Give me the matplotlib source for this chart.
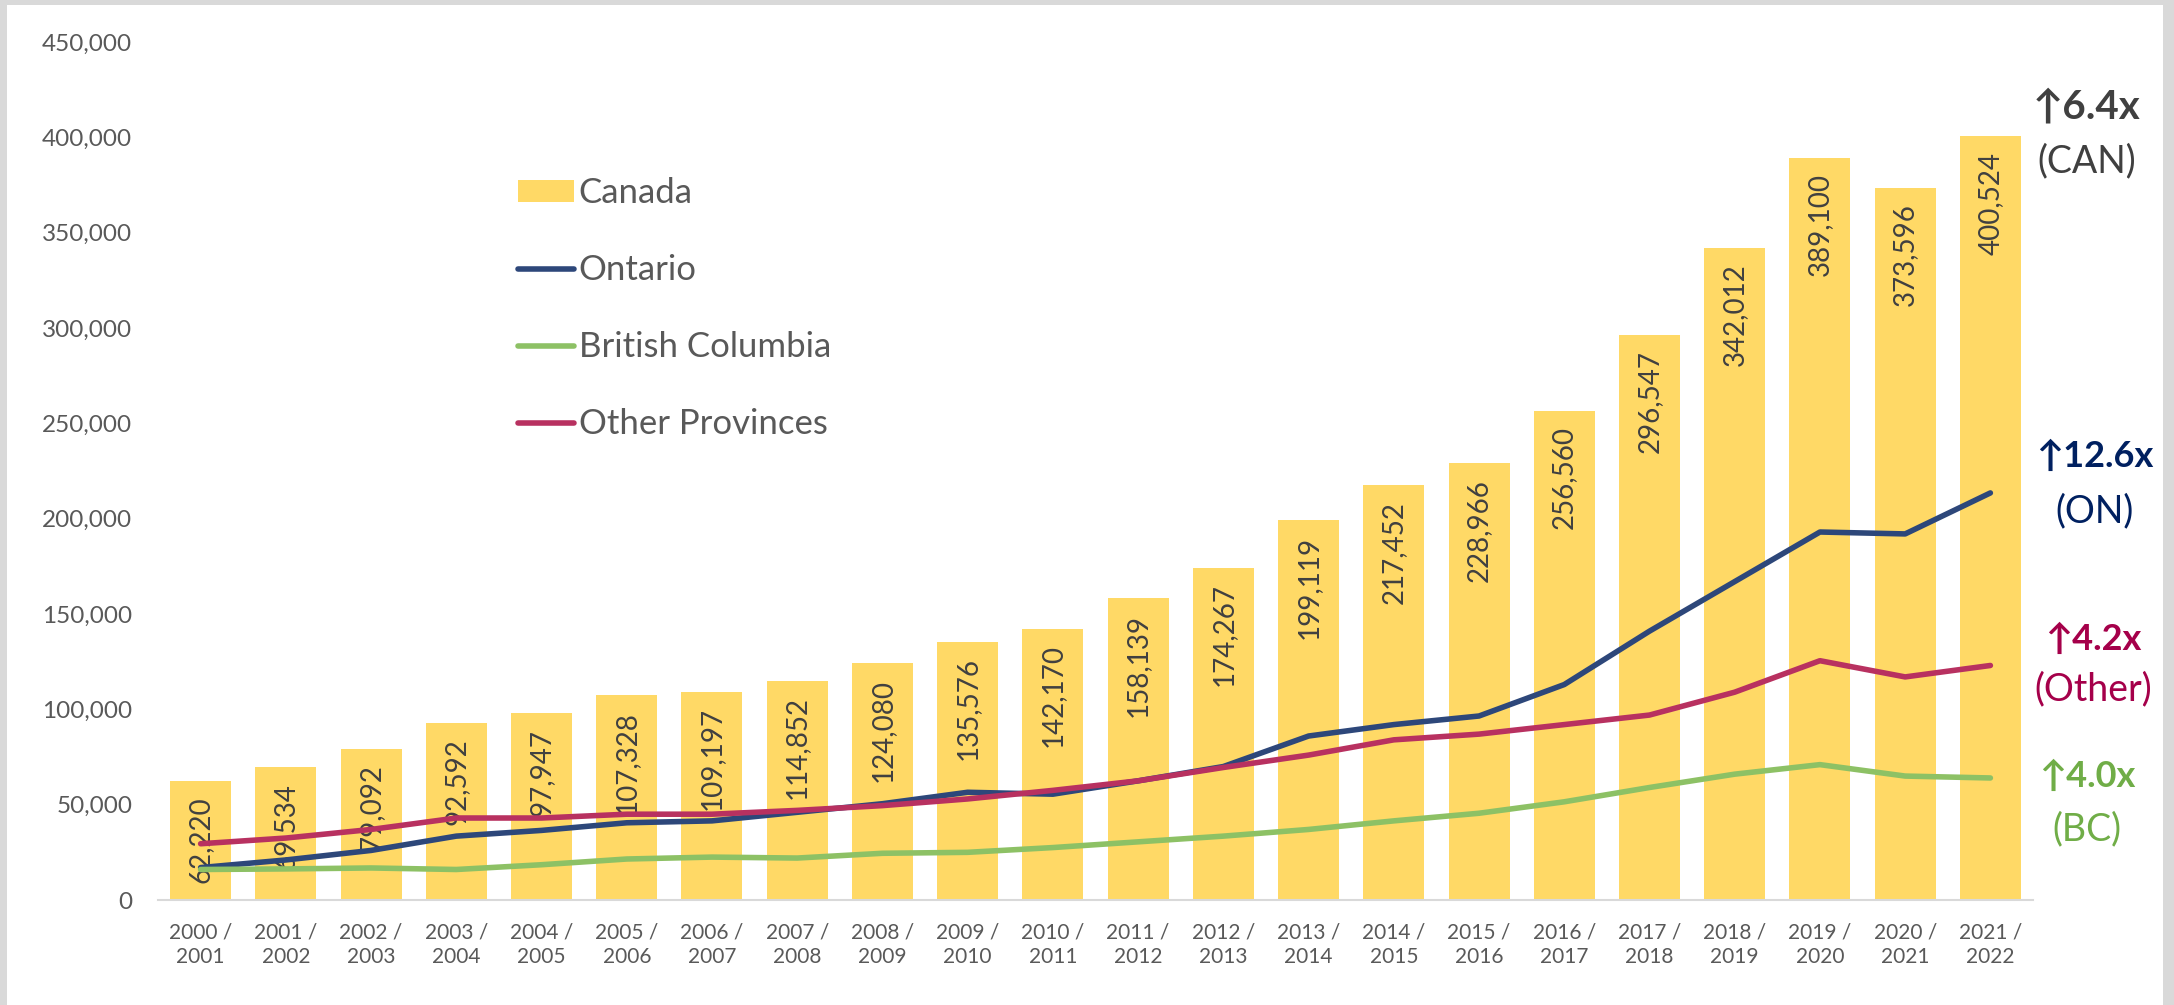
import matplotlib
matplotlib.use("Agg")
import matplotlib.pyplot as plt
from matplotlib.patches import Rectangle, Patch
from matplotlib.lines import Line2D
from matplotlib.ticker import FuncFormatter
import numpy as np

# ---------------- data ----------------
years = ["2000 /\n2001", "2001 /\n2002", "2002 /\n2003", "2003 /\n2004", "2004 /\n2005",
         "2005 /\n2006", "2006 /\n2007", "2007 /\n2008", "2008 /\n2009", "2009 /\n2010",
         "2010 /\n2011", "2011 /\n2012", "2012 /\n2013", "2013 /\n2014", "2014 /\n2015",
         "2015 /\n2016", "2016 /\n2017", "2017 /\n2018", "2018 /\n2019", "2019 /\n2020",
         "2020 /\n2021", "2021 /\n2022"]
canada = [62220, 69534, 79092, 92592, 97947, 107328, 109197, 114852, 124080, 135576,
          142170, 158139, 174267, 199119, 217452, 228966, 256560, 296547, 342012, 389100,
          373596, 400524]
ontario = [17000, 21000, 26000, 33500, 36500, 40500, 41500, 46000, 50500, 56500,
           55500, 62500, 70000, 86000, 92000, 96500, 113000, 141000, 167000, 193000,
           192000, 213500]
bc = [16000, 16300, 16800, 16000, 18500, 21500, 22500, 22000, 24500, 25000,
      27500, 30500, 33500, 37000, 41500, 45500, 51500, 59000, 66000, 71000,
      65000, 64000]
other = [29500, 32500, 37000, 43000, 43000, 45000, 45000, 47000, 49500, 53000,
         57500, 62500, 69500, 76000, 84000, 87000, 92000, 97000, 109000, 125500,
         117000, 123000]
yticks = [0, 50000, 100000, 150000, 200000, 250000, 300000, 350000, 400000, 450000]
growth_main = ["\u21916.4x", "\u219112.6x", "\u21914.2x", "\u21914.0x"]
growth_sub = ["(CAN)", "(ON)", "(Other)", "(BC)"]

# ---------------- style ----------------
W, H, DPI = 2174, 1005, 100
BAR = "#FFD966"
C_ON = "#2D477A"
C_BC = "#8DC165"
C_OT = "#B83160"
TXT = "#595959"
FONT = ["Lato", "DejaVu Sans"]

plt.rcParams["font.family"] = FONT

fig = plt.figure(figsize=(W / DPI, H / DPI), dpi=DPI, facecolor="#D9D9D9")
fig.add_artist(Rectangle((7 / W, 0), (2163 - 7) / W, (H - 5) / H,
                         transform=fig.transFigure, facecolor="white",
                         edgecolor="none", zorder=0))

ax = fig.add_axes([158 / W, (H - 900) / H, (2033 - 158) / W, (900 - 42) / H])
ax.set_facecolor("none")

x = np.arange(len(years))
ax.bar(x, canada, width=0.716, color=BAR, zorder=2)

for xi, v in zip(x, canada):
    ax.annotate(f"{v:,}", xy=(xi, v), xytext=(0, -11), textcoords="offset points",
                rotation=90, ha="center", va="top", fontsize=20, color="#404040",
                zorder=3)

lw = 4.0
for series, col in [(ontario, C_ON), (bc, C_BC), (other, C_OT)]:
    ax.plot(x, series, color=col, lw=lw, zorder=4,
            solid_capstyle="round", solid_joinstyle="round")

ax.set_xlim(-0.5, len(years) - 0.5)
ax.set_ylim(0, 450000)
ax.set_yticks(yticks)
ax.yaxis.set_major_formatter(FuncFormatter(lambda v, p: f"{int(v):,}"))
ax.set_xticks(x)
ax.set_xticklabels(years, linespacing=1.3)
ax.tick_params(axis="y", length=0, pad=18.5, labelsize=17.5, labelcolor=TXT)
ax.tick_params(axis="x", length=0, pad=16, labelsize=15, labelcolor=TXT)
for s in ["left", "right", "top"]:
    ax.spines[s].set_visible(False)
ax.spines["bottom"].set_color("#D9D9D9")
ax.spines["bottom"].set_linewidth(1.5)

# legend
handles = [Patch(facecolor=BAR, edgecolor="none"),
           Line2D([], [], color=C_ON, lw=lw, solid_capstyle="round"),
           Line2D([], [], color=C_BC, lw=lw, solid_capstyle="round"),
           Line2D([], [], color=C_OT, lw=lw, solid_capstyle="round")]
labels = ["Canada", "Ontario", "British Columbia", "Other Provinces"]
leg = ax.legend(handles, labels, loc="upper left",
                bbox_to_anchor=(518 / W, (H - 177) / H), bbox_transform=fig.transFigure,
                frameon=False, fontsize=25, handlelength=1.6, handletextpad=0.15,
                handleheight=0.6, labelspacing=1.3, borderaxespad=0, borderpad=0)
for t in leg.get_texts():
    t.set_color(TXT)

# growth annotations at the end of each series
finals = [canada[-1], ontario[-1], other[-1], bc[-1]]
colors = ["#404040", "#002060", "#A5004A", "#70AD47"]
main_size = [29, 26, 26, 26]
dy_main = [29, 36, 26, 2]
dy_sub = [-25, -18, -24, -51]
dx = [96, 104, 103, 97]
for val, m, s, c, fs, d1, d2, ddx in zip(finals, growth_main, growth_sub, colors,
                                        main_size, dy_main, dy_sub, dx):
    ax.annotate(m, xy=(len(years) - 1, val), xytext=(ddx * 0.72, d1 * 0.72),
                textcoords="offset points", ha="center", va="center",
                fontsize=fs, fontweight="bold",
                color=c, annotation_clip=False, family=FONT)
    ax.annotate(s, xy=(len(years) - 1, val), xytext=(ddx * 0.72, d2 * 0.72),
                textcoords="offset points", ha="center", va="center",
                fontsize=27, color=c, annotation_clip=False, family=FONT)

fig.savefig("out.png", dpi=DPI, facecolor=fig.get_facecolor())
